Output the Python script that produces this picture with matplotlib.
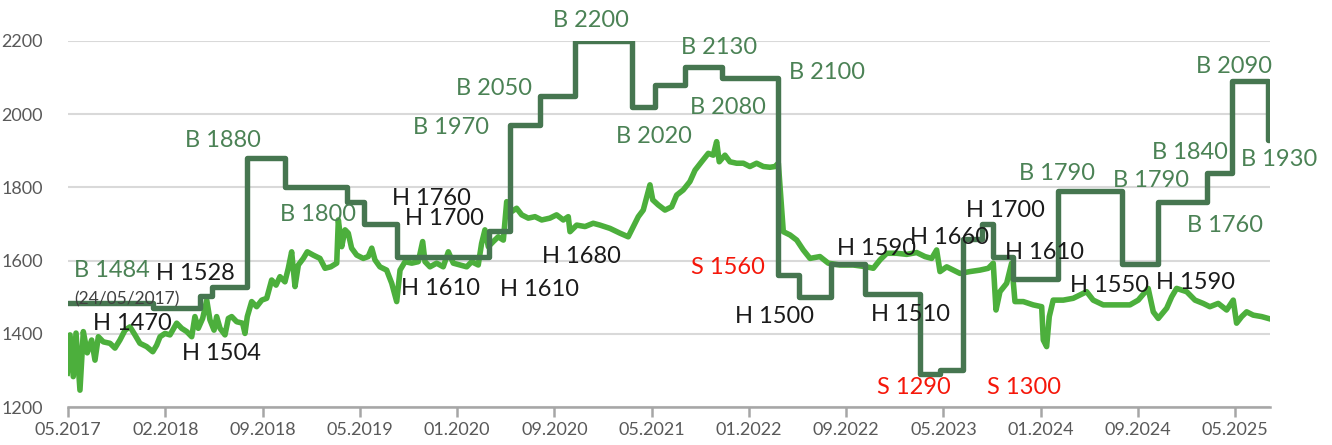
import numpy as np
import matplotlib.pyplot as plt

# Price line (light green), time in decimal years
price_t = [2017.328, 2017.347, 2017.369, 2017.388, 2017.415, 2017.438, 2017.465, 2017.495,
           2017.518, 2017.541, 2017.575, 2017.621, 2017.655, 2017.689, 2017.724, 2017.758,
           2017.792, 2017.826, 2017.872, 2017.914, 2017.941, 2017.964, 2017.998, 2018.032,
           2018.078, 2018.112, 2018.147, 2018.181, 2018.203, 2018.226, 2018.256, 2018.284,
           2018.306, 2018.334, 2018.352, 2018.375, 2018.409, 2018.432, 2018.455, 2018.489,
           2018.530, 2018.546, 2018.562, 2018.592, 2018.626, 2018.661, 2018.695, 2018.729,
           2018.759, 2018.786, 2018.820, 2018.843, 2018.866, 2018.889, 2018.912, 2018.946,
           2018.973, 2019.014, 2019.060, 2019.095, 2019.134, 2019.175, 2019.186, 2019.209,
           2019.232, 2019.254, 2019.277, 2019.312, 2019.357, 2019.391, 2019.415, 2019.437,
           2019.471, 2019.517, 2019.552, 2019.586, 2019.609, 2019.643, 2019.689, 2019.734,
           2019.764, 2019.780, 2019.814, 2019.860, 2019.905, 2019.940, 2019.974, 2020.020,
           2020.066, 2020.100, 2020.145, 2020.168, 2020.191, 2020.214, 2020.248, 2020.282,
           2020.317, 2020.340, 2020.374, 2020.408, 2020.443, 2020.488, 2020.534, 2020.580,
           2020.636, 2020.682, 2020.728, 2020.762, 2020.774, 2020.820, 2020.877, 2020.933,
           2020.979, 2021.048, 2021.116, 2021.173, 2021.208, 2021.242, 2021.276, 2021.322,
           2021.341, 2021.379, 2021.425, 2021.471, 2021.505, 2021.550, 2021.596, 2021.631,
           2021.676, 2021.722, 2021.756, 2021.779, 2021.797, 2021.836, 2021.870, 2021.916,
           2021.962, 2022.007, 2022.053, 2022.099, 2022.145, 2022.179, 2022.202, 2022.225,
           2022.236, 2022.282, 2022.328, 2022.373, 2022.419, 2022.487, 2022.544, 2022.624,
           2022.715, 2022.807, 2022.853, 2022.899, 2022.945, 2023.013, 2023.082, 2023.150,
           2023.207, 2023.253, 2023.287, 2023.310, 2023.356, 2023.401, 2023.447, 2023.515,
           2023.584, 2023.641, 2023.675, 2023.694, 2023.721, 2023.767, 2023.801, 2023.824,
           2023.881, 2023.949, 2024.007, 2024.018, 2024.041, 2024.059, 2024.086, 2024.155,
           2024.223, 2024.315, 2024.360, 2024.429, 2024.521, 2024.612, 2024.669, 2024.737,
           2024.772, 2024.806, 2024.864, 2024.898, 2024.932, 2025.001, 2025.058, 2025.114,
           2025.160, 2025.217, 2025.275, 2025.320, 2025.343, 2025.378, 2025.412, 2025.457,
           2025.515, 2025.560]
price_v = [1292, 1397, 1283, 1402, 1246, 1406, 1348, 1383,
           1328, 1392, 1378, 1374, 1361, 1383, 1410, 1419,
           1397, 1374, 1365, 1351, 1369, 1392, 1401, 1397,
           1429, 1415, 1406, 1392, 1447, 1415, 1442, 1492,
           1438, 1410, 1447, 1415, 1397, 1442, 1447, 1433,
           1429, 1401, 1447, 1488, 1474, 1492, 1497, 1547,
           1533, 1556, 1542, 1579, 1624, 1529, 1588, 1606,
           1624, 1615, 1606, 1579, 1583, 1593, 1711, 1638,
           1684, 1675, 1634, 1615, 1606, 1611, 1634, 1602,
           1583, 1574, 1538, 1488, 1574, 1597, 1593, 1597,
           1652, 1597, 1583, 1593, 1583, 1624, 1593, 1588,
           1583, 1597, 1588, 1647, 1684, 1638, 1652, 1665,
           1656, 1761, 1734, 1743, 1725, 1716, 1720, 1711,
           1716, 1725, 1711, 1720, 1679, 1697, 1693, 1702,
           1697, 1688, 1675, 1665, 1693, 1720, 1738, 1807,
           1766, 1752, 1738, 1747, 1779, 1793, 1816, 1847,
           1870, 1893, 1888, 1925, 1870, 1888, 1870, 1866,
           1866, 1857, 1866, 1857, 1855, 1857, 1866, 1738,
           1679, 1670, 1656, 1629, 1606, 1611, 1593, 1588,
           1588, 1583, 1579, 1602, 1620, 1620, 1617, 1622,
           1611, 1606, 1629, 1570, 1583, 1574, 1565, 1570,
           1574, 1579, 1593, 1465, 1515, 1538, 1593, 1488,
           1488, 1479, 1474, 1383, 1365, 1447, 1492, 1492,
           1497, 1515, 1492, 1479, 1479, 1479, 1492, 1524,
           1460, 1442, 1470, 1501, 1524, 1515, 1492, 1483,
           1474, 1483, 1465, 1492, 1429, 1447, 1460, 1451,
           1447, 1442]

# Recommendation level (dark green step line)
step_t = [2017.333, 2017.916, 2018.238, 2018.320, 2018.560, 2018.820, 2019.245, 2019.362,
          2019.588, 2020.219, 2020.362, 2020.568, 2020.808, 2021.199, 2021.356, 2021.562,
          2021.816, 2022.199, 2022.343, 2022.563, 2022.796, 2023.173, 2023.310, 2023.467,
          2023.598, 2023.673, 2023.810, 2024.118, 2024.557, 2024.804, 2025.140, 2025.311,
          2025.558, 2025.571]
step_v = [1484, 1470, 1504, 1528, 1880, 1800, 1760, 1700,
          1610, 1680, 1970, 2050, 2200, 2020, 2080, 2130,
          2100, 1560, 1500, 1590, 1510, 1290, 1300, 1660,
          1700, 1610, 1550, 1790, 1590, 1760, 1840, 2090,
          1930, 1930]

# Labels: text, colour key, position
label_text = ["B 1484", "H 1528", "H 1470", "H 1504", "B 1880", "B 1800", "H 1760", "H 1700",
              "H 1610", "B 1970", "B 2050", "B 2200", "H 1610", "H 1680", "B 2020", "B 2130",
              "B 2080", "B 2100", "S 1560", "H 1500", "H 1590", "H 1510", "H 1660", "H 1700",
              "H 1610", "H 1550", "H 1590", "B 1790", "B 1790", "B 1760", "B 1840", "B 2090",
              "B 1930", "S 1290", "S 1300"]
label_x = [2017.635, 2018.203, 2017.772, 2018.388, 2018.395, 2019.047, 2019.821, 2019.910,
           2019.883, 2019.958, 2020.253, 2020.918, 2020.568, 2020.849, 2021.349, 2021.795,
           2021.857, 2022.535, 2021.857, 2022.179, 2022.878, 2023.111, 2023.378, 2023.762,
           2024.029, 2024.475, 2025.064, 2024.112, 2024.756, 2025.263, 2025.023, 2025.325,
           2025.633, 2023.131, 2023.885]
label_y = [1572, 1566, 1427, 1345, 1929, 1727, 1771, 1716,
           1525, 1965, 2069, 2255, 1520, 1610, 1940, 2181,
           2017, 2115, 1582, 1446, 1634, 1454, 1662, 1738,
           1621, 1531, 1539, 1837, 1820, 1695, 1894, 2129,
           1875, 1252, 1252]

tick_pos = [2017.333 + i * 0.6667 for i in range(13)]
tick_labels = ["05.2017", "02.2018", "09.2018", "05.2019", "01.2020", "09.2020", "05.2021",
               "01.2022", "09.2022", "05.2023", "01.2024", "09.2024", "05.2025"]

dark = "#467650"
light = "#4caf3c"
colors = {"B": "#4b8255", "H": "#1a1a1a", "S": "#f5170a"}

plt.rcParams["font.family"] = ["Lato", "DejaVu Sans"]

fig = plt.figure(figsize=(13.32, 4.45), dpi=100)
ax = fig.add_axes([0.05105, 0.08539, 0.9024, 0.8225])

ax.plot(price_t, price_v, color=light, lw=4.0, solid_joinstyle="round", zorder=2)
ax.step(step_t, step_v, where="post", color=dark, lw=3.9,
        solid_joinstyle="round", solid_capstyle="round", zorder=3)

for txt, x, y in zip(label_text, label_x, label_y):
    ax.text(x, y, txt, color=colors[txt[0]], fontsize=17, ha="center", va="center", zorder=4)
ax.text(2017.737, 1495, "(24/05/2017)", color="#404040", fontsize=12.5,
        ha="center", va="center", zorder=4)

ax.set_xlim(2017.333, 2025.572)
ax.set_ylim(1200, 2200)
ax.set_yticks([1200, 1400, 1600, 1800, 2000, 2200])
ax.set_xticks(tick_pos)
ax.set_xticklabels(tick_labels)
ax.grid(axis="y", color="#d9d9d9", lw=1.5)
ax.set_axisbelow(True)

for s in ["top", "right", "left"]:
    ax.spines[s].set_visible(False)
ax.spines["bottom"].set_color("#a6a6a6")
ax.spines["bottom"].set_linewidth(1.8)
ax.tick_params(axis="x", colors="#a6a6a6", length=7, width=1.8, labelsize=13,
               labelcolor="#595959", pad=4)
ax.tick_params(axis="y", length=0, labelsize=13, labelcolor="#595959", pad=18)

fig.savefig("out.png", dpi=100)
